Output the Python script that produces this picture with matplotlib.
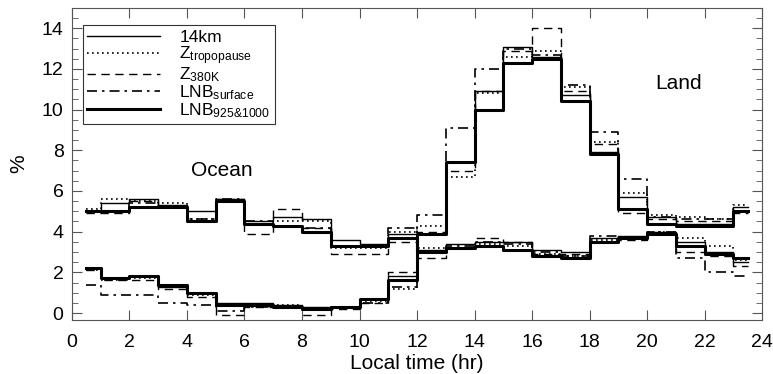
import matplotlib
matplotlib.use("Agg")
import matplotlib.pyplot as plt
import numpy as np
from matplotlib.ticker import MultipleLocator
from matplotlib.mathtext import MathTextParser

hours = [h + 0.5 for h in range(24)]

# Ocean
ocean_14km = [5.0, 5.4, 5.6, 5.3, 5.0, 5.6, 4.5, 4.7, 4.6, 3.6, 3.4, 3.9, 3.1, 3.4, 3.5, 3.5, 3.1, 3.0, 3.7, 3.8, 4.0, 3.5, 3.0, 2.5]
ocean_trop = [5.1, 5.6, 5.5, 5.4, 4.6, 5.5, 4.4, 4.5, 4.5, 3.2, 3.2, 4.0, 3.2, 3.2, 3.4, 3.3, 2.9, 2.8, 3.6, 3.7, 4.0, 3.7, 3.3, 2.6]
ocean_380k = [4.9, 4.9, 5.5, 5.2, 4.5, 5.6, 3.9, 5.1, 4.2, 2.9, 2.9, 3.5, 2.7, 3.2, 3.7, 3.5, 2.9, 2.9, 3.5, 3.6, 3.9, 3.0, 2.8, 2.3]
ocean_lnbs = [5.0, 5.0, 5.4, 5.2, 4.6, 5.6, 4.5, 4.3, 4.2, 3.3, 3.3, 4.2, 3.0, 3.3, 3.5, 3.4, 3.0, 2.8, 3.8, 3.7, 4.0, 2.7, 2.0, 1.8]
ocean_lnb925 = [5.0, 5.0, 5.2, 5.2, 4.5, 5.5, 4.4, 4.3, 4.0, 3.3, 3.3, 3.7, 3.0, 3.2, 3.3, 3.1, 2.8, 2.7, 3.5, 3.7, 3.9, 3.3, 2.9, 2.7]

# Land
land_14km = [2.2, 1.7, 1.8, 1.3, 1.0, 0.5, 0.5, 0.4, 0.3, 0.3, 0.7, 1.8, 3.9, 7.4, 10.9, 13.1, 12.6, 10.7, 7.9, 5.7, 4.7, 4.4, 4.4, 5.2]
land_trop = [2.1, 1.6, 1.7, 1.3, 0.9, 0.4, 0.4, 0.4, 0.2, 0.3, 0.6, 1.2, 4.3, 6.7, 10.8, 12.6, 12.9, 11.1, 8.4, 5.9, 4.8, 4.7, 4.6, 5.3]
land_380k = [2.1, 1.6, 1.6, 1.2, 0.8, -0.1, 0.3, 0.3, -0.1, 0.2, 0.5, 2.0, 4.0, 7.0, 10.9, 12.9, 14.0, 10.9, 8.3, 4.9, 4.6, 4.5, 4.5, 4.9]
land_lnbs = [1.4, 0.9, 0.9, 0.5, 0.4, 0.1, 0.3, 0.3, 0.2, 0.3, 0.5, 1.3, 4.8, 9.1, 12.0, 13.0, 12.7, 11.2, 8.9, 6.6, 4.7, 4.6, 4.6, 5.0]
land_lnb925 = [2.2, 1.7, 1.8, 1.4, 1.0, 0.4, 0.4, 0.3, 0.2, 0.3, 0.7, 1.6, 3.9, 7.4, 10.0, 12.3, 12.5, 10.4, 7.8, 5.1, 4.4, 4.3, 4.3, 5.0]

plt.rcParams["font.family"] = ["Liberation Sans", "DejaVu Sans"]
plt.rcParams["mathtext.fontset"] = "custom"
plt.rcParams["mathtext.rm"] = "Liberation Sans"
plt.rcParams["mathtext.it"] = "Liberation Sans:italic"
plt.rcParams["mathtext.default"] = "regular"

lnb925_label = r"LNB$_{925&1000}$"
try:
    MathTextParser("agg").parse(lnb925_label, dpi=100)
except Exception:
    lnb925_label = r"LNB$_{925/1000}$"

labels = ["14km", r"Z$_{tropopause}$", r"Z$_{380K}$",
          r"LNB$_{surface}$", lnb925_label]
styles = [dict(ls="-", lw=1.0), dict(ls=(0, (1, 2)), lw=1.2), dict(ls=(0, (6, 4)), lw=1.0),
          dict(ls=(0, (6, 3, 1.5, 3)), lw=1.2), dict(ls="-", lw=2.2)]

fig = plt.figure(figsize=(7.73, 3.74), dpi=100)
ax = fig.add_axes([0.093, 0.144, 0.893, 0.835])

ocean = [ocean_14km, ocean_trop, ocean_380k, ocean_lnbs, ocean_lnb925]
land = [land_14km, land_trop, land_380k, land_lnbs, land_lnb925]
for o, l, st, lab in zip(ocean, land, styles, labels):
    ax.plot(hours, o, drawstyle="steps-mid", color="black", label=lab, **st)
    ax.plot(hours, l, drawstyle="steps-mid", color="black", **st)

ax.set_xlim(0, 24)
ax.set_ylim(-0.35, 15)
ax.xaxis.set_major_locator(MultipleLocator(2))
ax.yaxis.set_minor_locator(MultipleLocator(0.5))
ax.set_yticks(range(0, 15, 2))
ax.tick_params(which="both", direction="in", top=True, right=True, labelsize=14, color="#555555")
ax.tick_params(which="major", length=7)
ax.tick_params(which="minor", length=4)
ax.tick_params(axis="x", pad=10)
ax.tick_params(axis="y", pad=6)
for s in ax.spines.values():
    s.set_color("#555555")
ax.set_xlabel("Local time (hr)", fontsize=15, labelpad=2)
ax.set_ylabel("%", fontsize=15, labelpad=10)

ax.text(5.2, 7.0, "Ocean", fontsize=15, ha="center", va="center")
ax.text(21.1, 11.3, "Land", fontsize=15, ha="center", va="center")

leg = ax.legend(loc="upper left", bbox_to_anchor=(0.016, 0.944), borderaxespad=0,
                fontsize=12.5, handlelength=4.2,
                frameon=True, fancybox=False, edgecolor="black", borderpad=0.25,
                labelspacing=-0.05, handletextpad=1.1)
leg.get_frame().set_linewidth(0.8)

fig.savefig("out.png", dpi=100)
